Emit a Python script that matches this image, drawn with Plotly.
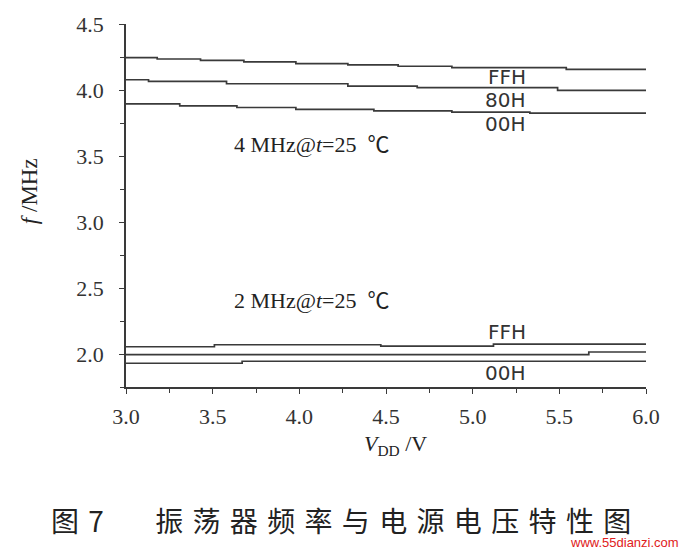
import plotly.graph_objects as go

# ---- data ----
v_4ffh = [3.0, 3.18, 3.43, 3.68, 3.98, 4.28, 4.57, 4.88, 5.54, 6.0]
f_4ffh = [4.245, 4.235, 4.225, 4.2125, 4.20, 4.19, 4.18, 4.17, 4.157, 4.157]
v_480h = [3.0, 3.13, 3.58, 4.28, 4.68, 5.49, 6.0]
f_480h = [4.0775, 4.065, 4.0475, 4.03, 4.0175, 3.9975, 3.9975]
v_400h = [3.0, 3.31, 3.64, 3.98, 4.43, 4.88, 5.33, 6.0]
f_400h = [3.895, 3.88, 3.8675, 3.8525, 3.8425, 3.8325, 3.825, 3.825]

v_2ffh = [3.0, 3.51, 4.47, 5.12, 6.0]
f_2ffh = [2.055, 2.07, 2.06, 2.075, 2.075]
v_280h = [3.0, 5.67, 6.0]
f_280h = [1.995, 2.015, 2.015]
v_200h = [3.0, 3.67, 6.0]
f_200h = [1.93, 1.945, 1.945]

x_ticks = [3.0, 3.5, 4.0, 4.5, 5.0, 5.5, 6.0]
y_ticks = [2.0, 2.5, 3.0, 3.5, 4.0, 4.5]

series = [(v_4ffh, f_4ffh), (v_480h, f_480h), (v_400h, f_400h),
          (v_2ffh, f_2ffh), (v_280h, f_280h), (v_200h, f_200h)]

line_color = "#3a3a3a"
serif = "Liberation Serif, Noto Sans CJK SC"
sans = "DejaVu Sans"

fig = go.Figure()
for xs, ys in series:
    fig.add_trace(go.Scatter(x=xs, y=ys, mode="lines", line_shape="hv",
                             line=dict(color=line_color, width=1.7),
                             showlegend=False, hoverinfo="skip"))

# curve labels
curve_labels = [("FFH", 5.198, 4.098), ("80H", 5.19, 3.926), ("00H", 5.19, 3.74),
                ("FFH", 5.198, 2.164), ("00H", 5.19, 1.858)]
for txt, x, y in curve_labels:
    fig.add_annotation(x=x, y=y, text=txt, showarrow=False,
                       xanchor="center", yanchor="middle",
                       font=dict(family=sans, size=20, color="#333"))

fig.add_annotation(x=3.61, y=3.59, xanchor="left", yanchor="middle",
                   text="4 MHz@<i>t</i>=25  ℃",
                   showarrow=False, font=dict(family=serif, size=22, color="#222"))
fig.add_annotation(x=3.61, y=2.406, xanchor="left", yanchor="middle",
                   text="2 MHz@<i>t</i>=25  ℃",
                   showarrow=False, font=dict(family=serif, size=22, color="#222"))

# axis titles
fig.add_annotation(xref="paper", yref="paper", x=-0.185, y=0.539, textangle=-90,
                   xanchor="center", yanchor="middle",
                   text="<i>f</i> /MHz", showarrow=False,
                   font=dict(family=serif, size=23, color="#222"))
fig.add_annotation(xref="paper", yref="paper", x=0.519, y=-0.16,
                   xanchor="center", yanchor="middle",
                   text="<i>V</i><sub>DD</sub> /V", showarrow=False,
                   font=dict(family=serif, size=22, color="#222"))

# caption
sp = "\u2004"
caption = "图" + sp + "7" + "\u3000\u2002" + sp + sp.join("振荡器频率与电源电压特性图")
fig.add_annotation(xref="paper", yref="paper", x=-0.148, y=-0.366,
                   xanchor="left", yanchor="middle",
                   text=caption, showarrow=False,
                   font=dict(family="Noto Sans CJK SC", size=28, color="#222"))
# watermark
fig.add_annotation(xref="paper", yref="paper", x=1.067, y=-0.428,
                   xanchor="right", yanchor="middle",
                   text="www.55dianzi.com", showarrow=False,
                   font=dict(family="Liberation Sans", size=13, color="#e02020"))

axis_common = dict(showline=True, linecolor=line_color, linewidth=1.7,
                   ticks="outside", ticklen=5, tickwidth=1.4, tickcolor=line_color,
                   showgrid=False, zeroline=False,
                   tickfont=dict(family="Liberation Serif", size=22, color="#333"))

fig.update_xaxes(range=[3.0, 6.0], tickvals=x_ticks, tickformat=".1f",
                 ticklabelstandoff=4,
                 minor=dict(ticks="outside", ticklen=4, dtick=0.25, tickcolor=line_color),
                 **axis_common)
fig.update_yaxes(range=[1.75, 4.5], tickvals=y_ticks, tickformat=".1f",
                 ticklabelstandoff=11,
                 minor=dict(ticks="outside", ticklen=4, dtick=0.25, tickcolor=line_color),
                 **axis_common)

fig.update_layout(width=682, height=554, margin=dict(l=126, r=36, t=18, b=167),
                  paper_bgcolor="white", plot_bgcolor="white")

# remove the browser's default body margin so the figure sits at the page origin
fig.write_html("out.html", config={"displayModeBar": False},
               post_script="document.body.style.margin='0';document.body.style.overflow='hidden';")
